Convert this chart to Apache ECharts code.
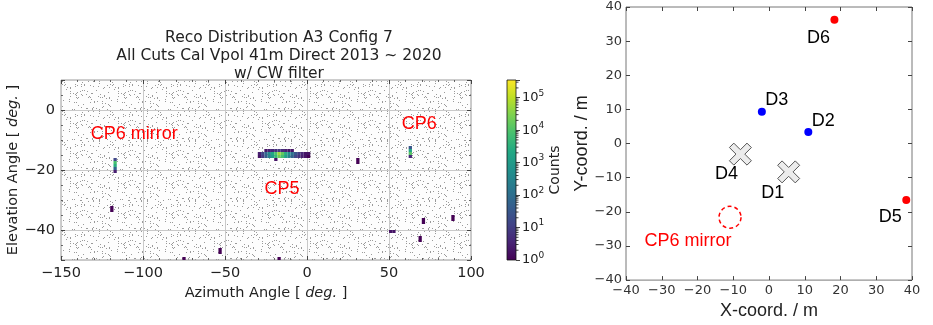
<!DOCTYPE html>
<html><head><meta charset="utf-8">
<script src="https://cdn.jsdelivr.net/npm/echarts@6/dist/echarts.min.js"></script>
<style>html,body{margin:0;padding:0;background:#fff}#c{width:933px;height:325px}</style>
</head><body><div id="c"></div>
<script>
// ---------- DATA ----------
const titleLines = ['Reco Distribution A3 Config 7', 'All Cuts Cal Vpol 41m Direct 2013 ~ 2020', 'w/ CW filter'];
const azTicks = [-150, -100, -50, 0, 50, 100];
const elTicks = [-40, -20, 0];
const colorbarDecades = [0, 1, 2, 3, 4, 5];
const xyTicks = [-40, -30, -20, -10, 0, 10, 20, 30, 40];
const COUNT_MAX = 3.5e5;
const AZ_BIN = 2, EL_BIN = 1;

// [azimuth lower edge, elevation lower edge, counts]
const cp5Bins = [
  [-30,-15,3],[-28,-15,12],[-26,-15,60],[-24,-15,400],[-22,-15,2000],[-20,-15,9000],[-18,-15,50000],[-16,-15,15000],
  [-14,-15,3000],[-12,-15,600],[-10,-15,120],[-8,-15,30],[-6,-15,10],[-4,-15,4],[-2,-15,2],[0,-15,2],
  [-30,-16,2],[-28,-16,8],[-26,-16,40],[-24,-16,250],[-22,-16,1200],[-20,-16,5000],[-18,-16,20000],[-16,-16,8000],
  [-14,-16,1500],[-12,-16,300],[-10,-16,60],[-8,-16,15],[-6,-16,6],[-4,-16,3],[-2,-16,2],[0,-16,1],
  [-26,-14,2],[-24,-14,3],[-22,-14,4],[-20,-14,6],[-18,-14,8],[-16,-14,5],[-14,-14,3],[-12,-14,2],[-10,-14,2],
  [-20,-17,2]
];
const cp6Bins = [[62,-13,30],[62,-14,2000],[62,-15,12000],[62,-16,4]];
const mirrorBins = [[-118,-17,15],[-118,-18,8000],[-118,-19,3000],[-118,-20,60],[-118,-21,3]];
const strayBins = [
  [30,-18,1],[30,-17,1],
  [-120,-34,1],[-120,-33,1],
  [-54,-48,1],[-54,-47,1],
  [-76,-50,1],[-18,-50,1],
  [50,-41,2],[52,-41,2],
  [70,-38,1],[70,-37,1],
  [68,-44,1],[68,-43,1],
  [88,-37,1],[88,-36,1]
];
const leftNotes = ['CP6 mirror', 'CP6', 'CP5'];
const leftNoteAz = [-105.4, 68.4, -15.2];
const leftNoteEl = [-8.0, -4.6, -26.2];

const detNames = ['D1', 'D2', 'D3', 'D4', 'D5', 'D6'];
const detX = [5.5, 11.0, -2.0, -8.0, 38.4, 18.3];
const detY = [-8.3, 3.4, 9.3, -3.1, -16.5, 36.3];
const detKind = ['cross', 'blue', 'blue', 'cross', 'red', 'red'];
const mirrorName = ['CP6 mirror'];
const mirrorX = [-10.9];
const mirrorY = [-21.6];

// ---------- STYLE ----------
const MPL = 'DejaVu Sans';
const ARIAL = 'Liberation Sans';
const viridis = ['#440154','#482475','#414487','#355f8d','#2a788e','#21918c','#22a884','#44bf70','#7ad151','#bddf26','#fde725'];
const labelOffset = { D1:[-16,21], D2:[15,-11], D3:[15,-12], D4:[-14,20], D5:[-16,17], D6:[-16,18] };
const minus = v => (v < 0 ? '\u2212' + Math.abs(v) : String(v));
const LOGMAX = Math.log10(COUNT_MAX);

// background texture of the histogram panel (decorative, deterministic hash)
function dotPattern() {
  const W = 48, H = 30;
  const c = document.createElement('canvas'); c.width = W; c.height = H;
  const g = c.getContext('2d');
  g.fillStyle = '#fdfdfd'; g.fillRect(0, 0, W, H);
  g.fillStyle = '#9a9a9a';
  for (let i = 0; i < W; i++) for (let j = 0; j < H; j++) {
    let h = (i * 374761393 + j * 668265263) >>> 0;
    h = ((h ^ (h >>> 13)) * 1274126177) >>> 0;
    h = (h ^ (h >>> 16)) >>> 0;
    if (h % 100 < 7) g.fillRect(i, j, 1, 1);
  }
  return c;
}

const heatData = [].concat(cp5Bins, cp6Bins, mirrorBins, strayBins).map(b => [b[0], b[1], Math.log10(b[2])]);
const minorTickData = [];
colorbarDecades.forEach(d => { for (let k = 2; k <= 9; k++) { const v = d + Math.log10(k); if (v < LOGMAX) minorTickData.push([1, v]); } });

function detSeries(kind, extra) {
  const data = [];
  detNames.forEach((n, i) => { if (detKind[i] === kind) data.push({ name: n, value: [detX[i], detY[i]], label: { offset: labelOffset[n] } }); });
  return Object.assign({
    type: 'scatter', xAxisIndex: 3, yAxisIndex: 3, data, z: 5,
    label: { show: true, position: 'inside', formatter: '{b}', color: '#000', opacity: 1, fontFamily: ARIAL, fontSize: 18 }
  }, extra);
}

const tickStyle = { show: true, inside: true, length: 4, lineStyle: { color: '#444', width: 1 } };
const leftMinor = { show: true, splitNumber: 5, length: 2, lineStyle: { color: '#444', width: 0.8 } };
const noLine = { show: false, onZero: false };

const chart = echarts.init(document.getElementById('c'));
chart.setOption({
  animation: false,
  backgroundColor: '#fff',
  title: {
    text: titleLines.join('\n'), left: 274, top: 24, textAlign: 'center',
    textStyle: { fontFamily: MPL, fontSize: 15.5, fontWeight: 'normal', color: '#222', lineHeight: 18 }
  },
  grid: [
    { left: 61, top: 80, width: 410, height: 180, show: true, borderColor: '#9a9a9a', borderWidth: 1, backgroundColor: { image: dotPattern(), repeat: 'repeat' } },
    { left: 507, top: 80, width: 9, height: 180, show: true, borderColor: '#111', borderWidth: 0.8,
      backgroundColor: { type: 'linear', x: 0, y: 1, x2: 0, y2: 0, colorStops: viridis.map((c, i) => ({ offset: i / (viridis.length - 1), color: c })) } },
    { left: 626, top: 7, width: 286, height: 287, show: true, borderColor: '#777', borderWidth: 1, backgroundColor: '#fff' }
  ],
  visualMap: {
    show: false, type: 'continuous', seriesIndex: 0, dimension: 2, min: 0, max: LOGMAX,
    inRange: { color: viridis }
  },
  xAxis: [
    { gridIndex: 0, type: 'value', min: -150, max: 100, interval: 50,
      axisLine: noLine, axisTick: tickStyle, minorTick: leftMinor,
      splitLine: { show: true, lineStyle: { color: '#c9c9c9', width: 1 } },
      axisLabel: { margin: 6, fontFamily: MPL, fontSize: 14.5, color: '#222', formatter: v => azTicks.includes(v) ? minus(v) : '' },
      name: 'Azimuth Angle [ {i|deg.} ]', nameLocation: 'middle', nameGap: 24,
      nameTextStyle: { fontFamily: MPL, fontSize: 14.5, color: '#222', rich: { i: { fontFamily: MPL, fontSize: 14.5, fontStyle: 'italic', color: '#222' } } } },
    { gridIndex: 0, type: 'value', position: 'top', min: -150, max: 100, interval: 50,
      axisLine: noLine, axisTick: tickStyle, minorTick: leftMinor, axisLabel: { show: false }, splitLine: { show: false } },
    { gridIndex: 1, type: 'value', min: 0, max: 1, show: false },
    { gridIndex: 2, type: 'value', min: -40, max: 40, interval: 10,
      axisLine: noLine, axisTick: tickStyle, splitLine: { show: false },
      axisLabel: { margin: 4, fontFamily: MPL, fontSize: 13, color: '#333', formatter: v => xyTicks.includes(v) ? minus(v) : '' },
      name: 'X-coord. / m', nameLocation: 'middle', nameGap: 15,
      nameTextStyle: { fontFamily: ARIAL, fontSize: 18, color: '#222' } },
    { gridIndex: 2, type: 'value', position: 'top', min: -40, max: 40, interval: 10,
      axisLine: noLine, axisTick: tickStyle, axisLabel: { show: false }, splitLine: { show: false } }
  ],
  yAxis: [
    { gridIndex: 0, type: 'value', min: -50, max: 10, splitNumber: 3,
      axisLine: noLine, axisTick: tickStyle, minorTick: Object.assign({}, leftMinor, { splitNumber: 4 }),
      splitLine: { show: true, lineStyle: { color: '#c9c9c9', width: 1 } },
      axisLabel: { margin: 6, fontFamily: MPL, fontSize: 14.5, color: '#222', formatter: v => elTicks.includes(v) ? minus(v) : '' },
      name: 'Elevation Angle [ {i|deg.} ]', nameLocation: 'middle', nameGap: 40,
      nameTextStyle: { fontFamily: MPL, fontSize: 14.5, color: '#222', rich: { i: { fontFamily: MPL, fontSize: 14.5, fontStyle: 'italic', color: '#222' } } } },
    { gridIndex: 0, type: 'value', position: 'right', min: -50, max: 10, splitNumber: 3,
      axisLine: noLine, axisTick: tickStyle, minorTick: Object.assign({}, leftMinor, { splitNumber: 4 }), axisLabel: { show: false }, splitLine: { show: false } },
    { gridIndex: 1, type: 'value', position: 'right', min: 0, max: LOGMAX, interval: 1,
      axisLine: noLine, splitLine: { show: false },
      axisTick: { show: true, inside: false, length: 4, lineStyle: { color: '#111', width: 0.8 } },
      axisLabel: { margin: 6, formatter: v => colorbarDecades.includes(v) ? '{b|10}{s|' + v + '}' : '',
        rich: { b: { fontFamily: MPL, fontSize: 13, color: '#222' }, s: { fontFamily: MPL, fontSize: 9, color: '#222', padding: [0, 0, 9, 0] } } },
      name: 'Counts', nameLocation: 'middle', nameGap: 27, nameRotate: 90,
      nameTextStyle: { fontFamily: MPL, fontSize: 14, color: '#222' } },
    { gridIndex: 2, type: 'value', min: -40, max: 40, interval: 10,
      axisLine: noLine, axisTick: tickStyle, splitLine: { show: false },
      axisLabel: { margin: 4, fontFamily: MPL, fontSize: 13, color: '#333', formatter: v => xyTicks.includes(v) ? minus(v) : '' },
      name: 'Y-coord. / m', nameLocation: 'middle', nameGap: 32,
      nameTextStyle: { fontFamily: ARIAL, fontSize: 18, color: '#222' } },
    { gridIndex: 2, type: 'value', position: 'right', min: -40, max: 40, interval: 10,
      axisLine: noLine, axisTick: tickStyle, axisLabel: { show: false }, splitLine: { show: false } }
  ],
  series: [
    { type: 'custom', xAxisIndex: 0, yAxisIndex: 0, clip: true, data: heatData, encode: { x: 0, y: 1 },
      renderItem: (params, api) => {
        const az = api.value(0), el = api.value(1);
        const p0 = api.coord([az, el + EL_BIN]);
        const p1 = api.coord([az + AZ_BIN, el]);
        return { type: 'rect', shape: { x: p0[0], y: p0[1], width: p1[0] - p0[0], height: p1[1] - p0[1] }, style: { fill: api.visual('color') } };
      } },
    { type: 'scatter', xAxisIndex: 0, yAxisIndex: 0, symbolSize: 0, z: 6, itemStyle: { opacity: 1 },
      data: leftNotes.map((n, i) => ({ name: n, value: [leftNoteAz[i], leftNoteEl[i]] })),
      label: { show: true, position: 'inside', formatter: '{b}', color: '#ff0000', opacity: 1, fontFamily: ARIAL, fontSize: 18 } },
    { type: 'custom', xAxisIndex: 2, yAxisIndex: 2, data: minorTickData, encode: { x: 0, y: 1 },
      renderItem: (params, api) => {
        const p = api.coord([api.value(0), api.value(1)]);
        return { type: 'line', shape: { x1: p[0], y1: p[1], x2: p[0] + 2.5, y2: p[1] }, style: { stroke: '#111', lineWidth: 0.8 } };
      } },
    detSeries('blue', { symbol: 'circle', symbolSize: 8, itemStyle: { color: '#0000ff', opacity: 1 } }),
    detSeries('red', { symbol: 'circle', symbolSize: 8, itemStyle: { color: '#ff0000', opacity: 1 } }),
    detSeries('cross', { symbol: 'path://M2,0 L5,3 L8,0 L10,2 L7,5 L10,8 L8,10 L5,7 L2,10 L0,8 L3,5 L0,2 Z', symbolSize: 22,
      itemStyle: { color: '#ececec', borderColor: '#555', borderWidth: 1, opacity: 1 } }),
    { type: 'scatter', xAxisIndex: 3, yAxisIndex: 3, symbol: 'circle', symbolSize: 22, z: 5,
      data: mirrorName.map((n, i) => ({ name: n, value: [mirrorX[i], mirrorY[i]] })),
      itemStyle: { color: 'rgba(0,0,0,0)', borderColor: '#ff0000', borderWidth: 1.5, borderType: [4, 3], opacity: 1 },
      label: { show: true, position: 'inside', offset: [-42, 24], formatter: '{b}', color: '#ff0000', opacity: 1, fontFamily: ARIAL, fontSize: 18 } }
  ]
});
</script>
</body></html>
